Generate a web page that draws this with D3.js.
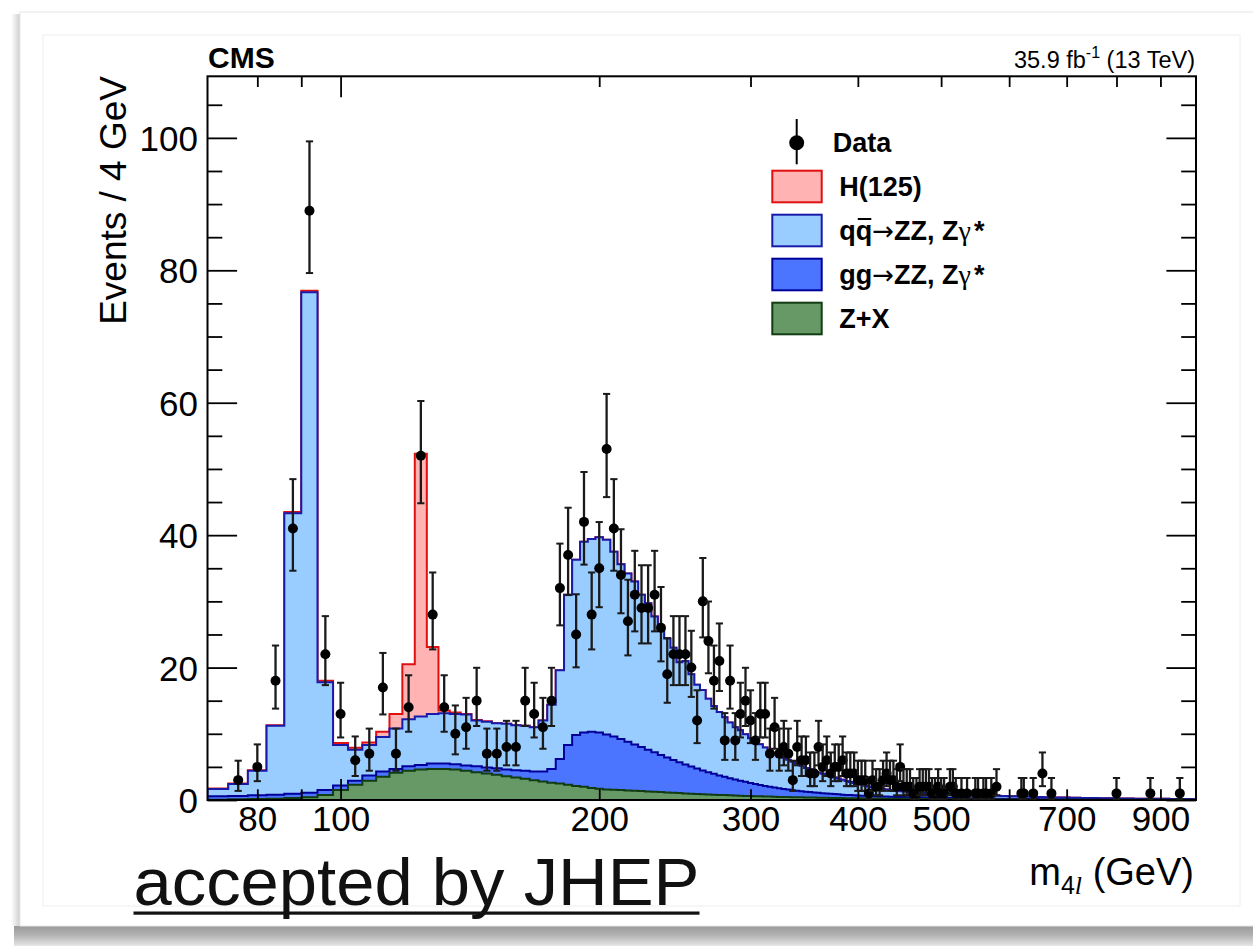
<!DOCTYPE html>
<html><head><meta charset="utf-8">
<script src="https://cdn.jsdelivr.net/npm/d3@7"></script>
<style>
html,body{margin:0;padding:0;background:#fff;}
svg{display:block;}
text{font-family:"Liberation Sans",Arial,Helvetica,sans-serif;}
</style></head><body>
<svg id="chart" width="1253" height="946"></svg>
<script>
// ---------------- data ----------------
const firstBinLow = 70, binWidth = 4;   // histogram bins: 70-74, 74-78, ... (Events / 4 GeV)

const zxBkg = [
0.05,0.1,0.15,0.2,0.3,0.4,0.75,1.5,2.3,2.9,
3.5,4.1,4.4,4.6,4.7,4.7,4.6,4.4,4.2,4.0,
3.8,3.6,3.4,3.2,3.0,2.8,2.6,2.5,2.3,2.1,
2.0,1.8,1.7,1.6,1.55,1.5,1.45,1.4,1.35,1.3,
1.25,1.2,1.15,1.1,1.05,1.0,0.96,0.92,0.88,0.84,
0.8,0.77,0.74,0.71,0.68,0.65,0.62,0.6,0.57,0.55,
0.53,0.51,0.49,0.47,0.45,0.44,0.42,0.41,0.4,0.38,
0.37,0.36,0.35,0.34,0.33,0.32,0.31,0.3,0.29,0.28,
0.27,0.26,0.25,0.25,0.24,0.23,0.23,0.22,0.21,0.21,
0.2,0.2,0.19,0.19,0.18,
0.18,0.17,0.17,0.16,0.16,0.16,0.15,0.15,0.14,0.14,0.14,0.13,0.13,
0.13,0.12,0.12,0.12,0.11,0.11,0.11,0.1,0.1,0.1,0.1,0.09,0.09,
0.09,0.09,0.08,0.08,0.08,0.08,0.07,0.07,0.07,0.07,0.07,0.06,0.06,
0.06,0.06,0.06,0.06,0.05,0.05,0.05,0.05,0.05,0.05,0.05,0.04,0.04,
0.04,0.04,0.04,0.04,0.04,0.04,0.04,0.04,0.04,0.04,0.04,0.04,0.04,
0.04,0.04,0.03,0.03,0.03,0.03,0.03,0.03,0.03,0.03,0.03,0.03,0.03,
0.03,0.03,0.03,0.03,0.03,0.03,0.03,0.03,0.03,0.03,0.03,0.03,0.03,
0.03,0.03,0.03,0.02,0.02,0.02,0.02,0.02,0.02,0.02,0.02,0.02,0.02,
0.02,0.02,0.02,0.02,0.02,0.02,0.02,0.02,0.02,0.02,0.02,0.02,0.02,
0.02,0.02,0.02,0.02,0.02,0.02,0.02,0.02,0.02,0.02,0.02,0.02,0.02,
0.02,0.02,0.01,0.01,0.01];

const ggZZ = [
0.5,0.5,0.55,0.6,0.65,0.7,0.75,0.7,0.6,0.8,
0.8,0.6,0.7,0.7,0.8,0.8,0.8,0.8,0.9,0.9,
1.0,1.0,1.1,1.2,1.3,1.5,2.1,3.7,6.0,7.7,
8.2,8.5,8.5,8.3,8.05,7.7,7.35,7.0,6.65,6.3,
5.95,5.6,5.25,4.95,4.65,4.35,4.09,3.83,3.57,3.36,
3.15,2.93,2.76,2.59,2.42,2.27,2.12,1.98,1.85,1.72,
1.6,1.5,1.4,1.31,1.23,1.15,1.07,1.0,0.94,0.88,
0.83,0.78,0.73,0.69,0.65,0.61,0.58,0.55,0.52,0.49,
0.47,0.45,0.43,0.41,0.39,0.37,0.36,0.34,0.33,0.32,
0.31,0.3,0.29,0.28,0.28,
0.27,0.26,0.26,0.25,0.25,0.24,0.24,0.23,0.23,0.22,0.22,0.21,0.21,
0.2,0.2,0.2,0.19,0.19,0.18,0.18,0.18,0.17,0.17,0.16,0.16,0.16,
0.15,0.15,0.15,0.14,0.14,0.14,0.13,0.13,0.13,0.12,0.12,0.12,0.12,
0.11,0.11,0.11,0.11,0.1,0.1,0.1,0.1,0.09,0.09,0.09,0.09,0.09,
0.08,0.08,0.08,0.08,0.08,0.07,0.07,0.07,0.07,0.07,0.07,0.06,0.06,
0.06,0.06,0.06,0.06,0.06,0.05,0.05,0.05,0.05,0.05,0.05,0.05,0.05,
0.05,0.04,0.04,0.04,0.04,0.04,0.04,0.04,0.04,0.04,0.04,0.04,0.04,
0.04,0.03,0.03,0.03,0.03,0.03,0.03,0.03,0.03,0.03,0.03,0.03,0.03,
0.03,0.03,0.03,0.03,0.03,0.03,0.03,0.03,0.03,0.03,0.03,0.03,0.03,
0.03,0.03,0.03,0.02,0.02,0.02,0.02,0.02,0.02,0.02,0.02,0.02,0.02,
0.02,0.02,0.02,0.02,0.02];

const qqZZ = [
1.1,1.8,3.7,10.4,42.35,75.6,16.3,6.1,4.7,4.6,
5.2,6.1,7.1,7.3,7.5,7.6,7.6,7.7,6.9,6.9,
6.8,6.9,6.8,6.8,6.7,7.7,9.7,13.4,22.7,26.5,
28.8,29.1,29.5,29.4,27.9,26.4,25.4,24.6,23.0,22.1,
20.5,18.8,18.0,16.95,15.1,15.65,13.95,12.65,12.15,11.1,
10.25,9.6,9.0,8.4,7.9,7.6,7.2,6.75,6.4,6.15,
5.8,5.5,5.2,5.0,4.7,4.5,4.28,4.05,3.82,3.59,
3.45,3.21,3.07,2.92,2.77,2.61,2.5,2.39,2.23,2.11,
1.99,1.87,1.75,1.64,1.54,1.45,1.37,1.29,1.22,1.14,
1.08,1.01,0.95,0.9,0.85,
0.82,0.8,0.78,0.76,0.74,0.72,0.7,0.69,0.68,0.66,0.65,0.64,0.63,
0.62,0.61,0.6,0.59,0.58,0.57,0.56,0.55,0.54,0.53,0.52,0.51,0.5,
0.49,0.48,0.47,0.46,0.45,0.44,0.44,0.43,0.42,0.41,0.41,0.4,0.39,
0.38,0.38,0.37,0.36,0.36,0.35,0.34,0.34,0.33,0.33,0.32,0.32,0.31,
0.31,0.3,0.3,0.29,0.29,0.28,0.28,0.27,0.27,0.26,0.26,0.26,0.25,
0.25,0.24,0.24,0.24,0.23,0.23,0.23,0.22,0.22,0.22,0.21,0.21,0.21,
0.2,0.2,0.2,0.2,0.19,0.19,0.19,0.18,0.18,0.18,0.18,0.17,0.17,
0.17,0.17,0.16,0.16,0.16,0.16,0.15,0.15,0.15,0.15,0.15,0.14,0.14,
0.14,0.14,0.14,0.13,0.13,0.13,0.13,0.13,0.12,0.12,0.12,0.12,0.12,
0.12,0.11,0.11,0.11,0.11,0.11,0.11,0.1,0.1,0.1,0.1,0.1,0.1,
0.1,0.1,0.09,0.09,0.09];

const higgs = [
0.1,0.1,0.1,0.1,0.2,0.2,0.2,0.3,0.3,0.4,
0.8,2.2,8.3,39.7,10.1,0.4,0.2,0.1,0.1,0.1];

const dataMass = [76,80,84,88,92,96,100,104,108,112,116,120,124,128,132,136,140,144,148,152,
156,160,164,168,172,176,180,184,188,192,196,200,204,208,212,216,220,224,228,232,
236,240,244,248,252,256,260,264,268,272,276,280,284,288,292,296,300,304,308,312,
316,320,324,328,332,336,340,344,348,352,356,360,364,368,372,376,380,384,388,392,
396,400,404,408,412,416,420,424,428,432,436,440,444,448,452,456,460,464,468,472,
476,480,484,488,492,496,500,504,512,516,520,528,536,548,552,560,564,572,580,620,
624,640,656,672,800,876,948];
const dataCount = [3,5,18,41,89,22,13,6,7,17,7,14,52,28,14,10,11,15,7,7,
8,8,15,13,11,15,32,37,25,42,28,35,53,41,34,27,31,29,29,31,
26,19,22,22,22,20,12,30,24,18,21,9,18,9,13,15,12,9,13,13,
7,11,7,8,7,3,8,6,6,4,4,8,5,6,4,5,5,6,4,4,
4,3,3,3,1,3,2,2,3,4,3,3,2,5,2,2,2,1,1,2,
2,2,2,1,1,2,1,1,2,2,1,1,1,1,1,1,1,1,2,1,
1,1,4,1,1,1,1];

const xLabelTicks = [80,100,200,300,400,500,700,900];
const xMinorTicks = [80,90,200,300,400,500,600,700,800,900];
const xMajorTicks = [100];
const yLabelTicks = [0,20,40,60,80,100];
const legendLabels = ["Data","H(125)","qq\u2192ZZ, Z","gg\u2192ZZ, Z","Z+X"];

// ---------------- drawing ----------------
const svg = d3.select("#chart");
const defs = svg.append("defs");

// picture frame decoration
const gB = defs.append("linearGradient").attr("id","shadowB").attr("x1",0).attr("y1",0).attr("x2",0).attr("y2",1);
gB.append("stop").attr("offset","0%").attr("stop-color","#9a9a9a");
gB.append("stop").attr("offset","45%").attr("stop-color","#b2b2b2");
gB.append("stop").attr("offset","100%").attr("stop-color","#e6e6e6");
const gL = defs.append("linearGradient").attr("id","shadowL").attr("x1",0).attr("y1",0).attr("x2",1).attr("y2",0);
gL.append("stop").attr("offset","0%").attr("stop-color","#ffffff");
gL.append("stop").attr("offset","100%").attr("stop-color","#cfcfcf");

svg.append("rect").attr("x",0).attr("y",0).attr("width",1253).attr("height",946).attr("fill","#fff");
svg.append("rect").attr("x",14).attr("y",926).attr("width",1239).attr("height",20).attr("fill","url(#shadowB)");
svg.append("rect").attr("x",11).attr("y",14).attr("width",9).attr("height",912).attr("fill","url(#shadowL)");
svg.append("rect").attr("x",20).attr("y",12).attr("width",1240).attr("height",914).attr("fill","#fff").attr("stroke","#e6e6e6");
svg.append("rect").attr("x",43).attr("y",35).attr("width",1197).attr("height",871).attr("fill","#fff").attr("stroke","#eeeeee");

const X0 = 207.5, X1 = 1196, Y0 = 800, Y1 = 76.3;
const x = d3.scaleLog().domain([70, 990]).range([X0, X1]);
const y = d3.scaleLinear().domain([0, 109.3]).range([Y0, Y1]);

defs.append("clipPath").attr("id","plotClip").append("rect")
  .attr("x",X0).attr("y",Y1).attr("width",X1-X0).attr("height",Y0-Y1);

const bins = qqZZ.map((v,i)=>({lo: firstBinLow+i*binWidth, zx: zxBkg[i]||0, gg: ggZZ[i]||0, qq: v||0, h: higgs[i]||0}));
const series = d3.stack().keys(["zx","gg","qq","h"])(bins);
const styles = {
  h:{fill:"#ffb3b3",stroke:"#e01010"},
  qq:{fill:"#99ccff",stroke:"#1a1aaa"},
  gg:{fill:"#4b74ff",stroke:"#000099"},
  zx:{fill:"#669966",stroke:"#123d12"}
};
function stepPts(s){
  const pts=[];
  s.forEach((d,i)=>{const lo=bins[i].lo, hi=lo+binWidth; pts.push([lo,d[1]],[hi,d[1]]);});
  return pts;
}
const area = d3.area().x(d=>x(d[0])).y0(y(0)).y1(d=>y(d[1]));
const line = d3.line().x(d=>x(d[0])).y(d=>y(d[1]));
const gHist = svg.append("g").attr("clip-path","url(#plotClip)");
["h","qq","gg","zx"].forEach(k=>{
  const s = series.find(ss=>ss.key===k);
  const pts = stepPts(s);
  gHist.append("path").attr("d",area(pts)).attr("fill",styles[k].fill);
  const lpts = [[pts[0][0],0],...pts,[pts[pts.length-1][0],0]];
  gHist.append("path").attr("d",line(lpts)).attr("fill","none")
    .attr("stroke",styles[k].stroke).attr("stroke-width",2);
});

// axes ticks
function styleAxis(g){
  g.select(".domain").remove();
  g.selectAll(".tick line").attr("stroke","#000").attr("stroke-width",1.8);
  g.selectAll("text").attr("font-family","Liberation Sans, Arial, sans-serif").attr("font-size",35).attr("fill","#000");
}
const yMinor = d3.range(5,110,5).filter(v=>v%20!==0);
svg.append("g").attr("transform",`translate(${X0},0)`)
  .call(d3.axisLeft(y).tickValues(yLabelTicks).tickSize(-29.6).tickPadding(9.5).tickFormat(d3.format("d")))
  .call(styleAxis).call(g=>g.selectAll("text").attr("dy","0.36em"));
svg.append("g").attr("transform",`translate(${X0},0)`)
  .call(d3.axisLeft(y).tickValues(yMinor).tickSize(-14.8).tickFormat("")).call(styleAxis);
svg.append("g").attr("transform",`translate(${X1},0)`)
  .call(d3.axisRight(y).tickValues(yLabelTicks).tickSize(-29.6).tickFormat("")).call(styleAxis);
svg.append("g").attr("transform",`translate(${X1},0)`)
  .call(d3.axisRight(y).tickValues(yMinor).tickSize(-14.8).tickFormat("")).call(styleAxis);
svg.append("g").attr("transform",`translate(0,${Y0})`)
  .call(d3.axisBottom(x).tickValues(xMinorTicks).tickSize(-10.7).tickFormat("")).call(styleAxis);
svg.append("g").attr("transform",`translate(0,${Y0})`)
  .call(d3.axisBottom(x).tickValues(xMajorTicks).tickSize(-21).tickFormat("")).call(styleAxis);
svg.append("g").attr("transform",`translate(0,${Y0})`)
  .call(d3.axisBottom(x).tickValues(xLabelTicks).tickSize(0).tickPadding(6.4).tickFormat(d3.format("d"))).call(styleAxis);
svg.append("g").attr("transform",`translate(0,${Y1})`)
  .call(d3.axisTop(x).tickValues(xMinorTicks).tickSize(-10.7).tickFormat("")).call(styleAxis);
svg.append("g").attr("transform",`translate(0,${Y1})`)
  .call(d3.axisTop(x).tickValues(xMajorTicks).tickSize(-21).tickFormat("")).call(styleAxis);

// frame
svg.append("rect").attr("x",X0).attr("y",Y1).attr("width",X1-X0).attr("height",Y0-Y1)
  .attr("fill","none").attr("stroke","#000").attr("stroke-width",2);

// data points with Poisson (Gehrels) intervals
const gData = svg.append("g");
dataMass.forEach((m,i)=>{
  const n = dataCount[i];
  const up = n + Math.sqrt(n+0.75) + 1;
  const lo = n*Math.pow(1 - 1/(9*n) - 1/(3*Math.sqrt(n)), 3);
  const cx = x(m);
  gData.append("line").attr("x1",cx).attr("x2",cx).attr("y1",y(lo)).attr("y2",y(up))
    .attr("stroke","#1a1a1a").attr("stroke-width",2.3);
  [lo,up].forEach(v=>gData.append("line").attr("x1",cx-3.6).attr("x2",cx+3.6).attr("y1",y(v)).attr("y2",y(v))
    .attr("stroke","#1a1a1a").attr("stroke-width",2));
  gData.append("circle").attr("cx",cx).attr("cy",y(n)).attr("r",5).attr("fill","#000");
});

// titles
svg.append("text").attr("x",208).attr("y",68).attr("font-size",30).attr("font-weight","bold").text("CMS");
const lumi = svg.append("text").attr("x",1195).attr("y",68).attr("font-size",23.5).attr("text-anchor","end");
lumi.append("tspan").text("35.9 fb");
lumi.append("tspan").attr("font-size",16).attr("dy",-10).text("-1");
lumi.append("tspan").attr("dy",10).text(" (13 TeV)");

svg.append("text").attr("transform","translate(126,76) rotate(-90)").attr("text-anchor","end")
  .attr("font-size",37).text("Events / 4 GeV");

const xt = svg.append("text").attr("x",1194).attr("y",885).attr("text-anchor","end").attr("font-size",38);
xt.append("tspan").text("m");
xt.append("tspan").attr("font-size",25).attr("dy",9).text("4");
xt.append("tspan").attr("font-size",26).attr("font-family","Liberation Serif, serif").attr("font-style","italic").text("l");
xt.append("tspan").attr("dy",-9).text(" (GeV)");

// legend
const lg = svg.append("g");
const lx = 796.7, rowY = [142.5,186.5,230.5,274.5,318.5];
lg.append("line").attr("x1",lx).attr("x2",lx).attr("y1",119).attr("y2",164.3).attr("stroke","#000").attr("stroke-width",2);
lg.append("circle").attr("cx",lx).attr("cy",142.7).attr("r",7.5).attr("fill","#000");
lg.append("text").attr("x",832.7).attr("y",rowY[0]+9.5).attr("font-size",27).attr("font-weight","bold").text(legendLabels[0]);
const legKeys = ["h","qq","gg","zx"];
legKeys.forEach((k,j)=>{
  const cy = rowY[j+1];
  lg.append("rect").attr("x",772.3).attr("y",cy-15.8).attr("width",49.4).attr("height",31.6)
    .attr("fill",styles[k].fill).attr("stroke",styles[k].stroke).attr("stroke-width",2);
  const t = lg.append("text").attr("x",839.3).attr("y",cy+9.5).attr("font-size",27).attr("font-weight","bold");
  const lab = legendLabels[j+1];
  if (k==="qq" || k==="gg") {
    const parts = lab.split("\u2192");
    t.append("tspan").text(parts[0]);
    t.append("tspan").attr("font-weight","normal").attr("font-family","DejaVu Sans, sans-serif").attr("font-size",26).text("\u2192");
    t.append("tspan").text(parts[1]);
    t.append("tspan").attr("font-weight","normal").attr("font-family","Liberation Serif, serif").attr("font-size",28).text("\u03b3");
    t.append("tspan").attr("dx",3).text("*");
    if (k==="qq") {
      const ext = t.node().getExtentOfChar(1);
      lg.append("line").attr("x1",ext.x+2).attr("x2",ext.x+ext.width-1)
        .attr("y1",cy+9.5-21).attr("y2",cy+9.5-21).attr("stroke","#000").attr("stroke-width",2);
    }
  } else {
    t.text(lab);
  }
});

// annotation below the chart
svg.append("text").attr("x",133.5).attr("y",904.5).attr("font-family","Lato, 'Open Sans', sans-serif")
  .attr("font-size",66).attr("textLength",566).attr("lengthAdjust","spacingAndGlyphs").attr("fill","#111")
  .text("accepted by JHEP");
svg.append("rect").attr("x",133.5).attr("y",911.5).attr("width",566).attr("height",3.2).attr("fill","#111");
</script></body></html>
